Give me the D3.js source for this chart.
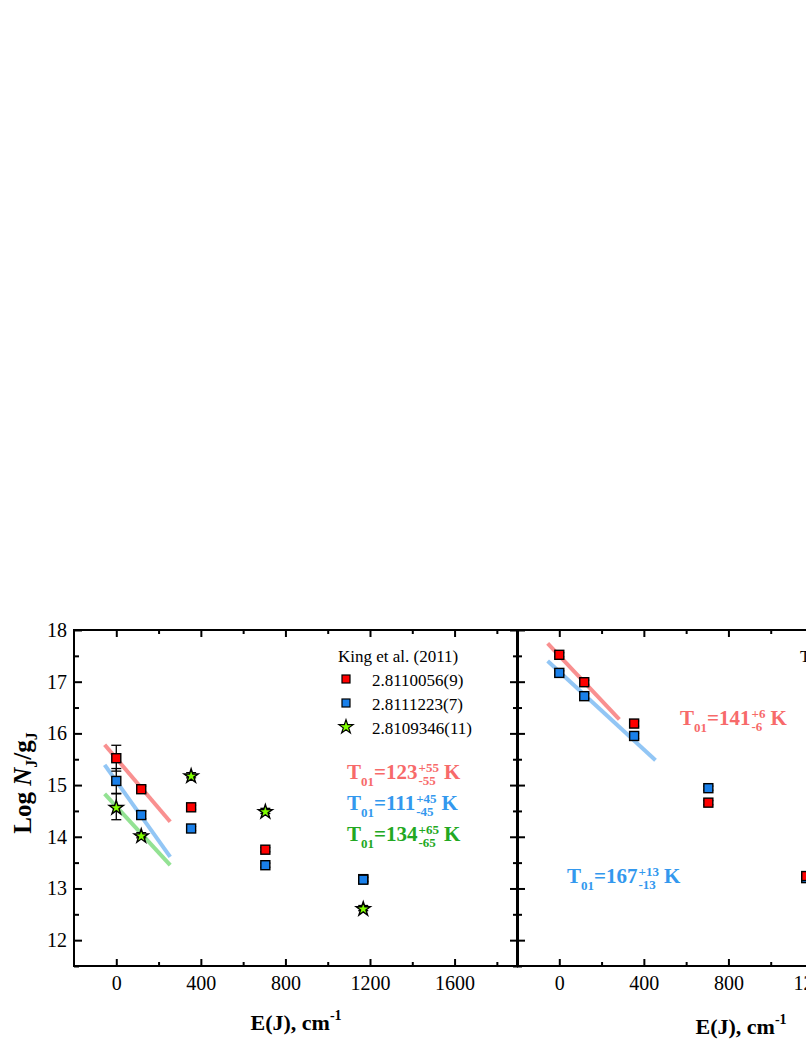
<!DOCTYPE html>
<html>
<head>
<meta charset="utf-8">
<script src="https://cdn.jsdelivr.net/npm/d3@7"></script>
<style>
  html, body { margin: 0; padding: 0; background: #fff; overflow: hidden; }
  svg { display: block; font-family: "Liberation Serif", "DejaVu Serif", serif; }
</style>
</head>
<body>
<div id="chart"></div>
<script>
// --- Data ---
const energies = [0, 118, 354, 705, 1168];           // E(J), cm^-1

// left panel: King et al. (2011)
const kingRed   = [15.52, 14.92, 14.57, 13.75, 13.18];
const kingBlue  = [15.08, 14.42, 14.16, 13.45, 13.17];
const kingGreen = [14.58, 14.03, 15.19, 14.50, 12.62];
const kingRedErr   = [0.25, 0.06, 0.04, 0.04, 0.04];
const kingBlueErr  = [0.24, 0.07, 0.04, 0.04, 0.04];
const kingGreenErr = [0.25, 0.05, 0.05, 0.05, 0.05];
const kingLabels = ["2.8110056(9)", "2.8111223(7)", "2.8109346(11)"];

// right panel
const workRed  = [17.52, 16.99, 16.19, 14.66, 13.24];
const workBlue = [17.17, 16.72, 15.95, 14.94, 13.20];
const workRedErr  = [0.04, 0.04, 0.05, 0.04, 0.04];
const workBlueErr = [0.04, 0.05, 0.05, 0.04, 0.04];

// fit lines [E start, E end], [log start, log end]
const fitKingRed   = { e: [-55, 255], v: [15.78, 14.29] };
const fitKingBlue  = { e: [-55, 255], v: [15.39, 13.61] };
const fitKingGreen = { e: [-55, 255], v: [14.83, 13.45] };
const fitWorkRed   = { e: [-55, 284], v: [17.74, 16.27] };
const fitWorkBlue  = { e: [-55, 455], v: [17.40, 15.48] };

const xMajor = [0, 400, 800, 1200, 1600];
const xMinor = [200, 600, 1000, 1400, 1800];
const yMajor = [12, 13, 14, 15, 16, 17, 18];
const yMinor = [11.5, 12.5, 13.5, 14.5, 15.5, 16.5, 17.5];

// --- Colours ---
const cRed = "#ff0000", cBlue = "#1a80ea", cStar = "#80ff00";
const lRed = "#f99090", lBlue = "#92c6f5", lGreen = "#93e293";
const tRed = "#f76a6a", tBlue = "#3398ee", tGreen = "#22a822";

// --- Layout ---
const W = 806, H = 1042;
const plotTop = 630, plotBottom = 966, panelW = 444;

const svg = d3.select("#chart").append("svg")
  .attr("width", W).attr("height", H);

const y = d3.scaleLinear().domain([11.5, 18]).range([plotBottom, plotTop]);

function styleAxis(s) {
  s.select(".domain").remove();
  s.selectAll("line").attr("stroke", "#000").attr("stroke-width", 2);
  s.selectAll("text").attr("fill", "#000").style("font-size", "20px")
    .style("font-family", "'Liberation Serif', serif");
}

function makePanel(x0, showYLabels) {
  const x = d3.scaleLinear().domain([-200, 1900]).range([x0, x0 + panelW]);
  const g = svg.append("g");

  // x: bottom (labels) and top (mirror)
  g.append("g").attr("transform", `translate(0,${plotBottom})`)
    .call(d3.axisBottom(x).tickValues(xMajor).tickSize(-7).tickPadding(10).tickFormat(d3.format("d")))
    .call(styleAxis);
  g.append("g").attr("transform", `translate(0,${plotBottom})`)
    .call(d3.axisBottom(x).tickValues(xMinor).tickSize(-4).tickFormat(""))
    .call(styleAxis);
  g.append("g").attr("transform", `translate(0,${plotTop})`)
    .call(d3.axisTop(x).tickValues(xMajor).tickSize(-7).tickFormat(""))
    .call(styleAxis);
  g.append("g").attr("transform", `translate(0,${plotTop})`)
    .call(d3.axisTop(x).tickValues(xMinor).tickSize(-4).tickFormat(""))
    .call(styleAxis);

  // y: left and right (mirror)
  g.append("g").attr("transform", `translate(${x0},0)`)
    .call(d3.axisLeft(y).tickValues(yMajor).tickSize(-8).tickPadding(7)
      .tickFormat(showYLabels ? d3.format("d") : ""))
    .call(styleAxis);
  g.append("g").attr("transform", `translate(${x0},0)`)
    .call(d3.axisLeft(y).tickValues(yMinor).tickSize(-5).tickFormat(""))
    .call(styleAxis);
  g.append("g").attr("transform", `translate(${x0 + panelW},0)`)
    .call(d3.axisRight(y).tickValues(yMajor).tickSize(-8).tickFormat(""))
    .call(styleAxis);
  g.append("g").attr("transform", `translate(${x0 + panelW},0)`)
    .call(d3.axisRight(y).tickValues(yMinor).tickSize(-5).tickFormat(""))
    .call(styleAxis);

  g.append("rect")
    .attr("x", x0).attr("y", plotTop).attr("width", panelW).attr("height", plotBottom - plotTop)
    .attr("fill", "none").attr("stroke", "#000").attr("stroke-width", 2);

  return { g, x };
}

function fitLine(p, fit, color) {
  p.g.append("line")
    .attr("x1", p.x(fit.e[0])).attr("y1", y(fit.v[0]))
    .attr("x2", p.x(fit.e[1])).attr("y2", y(fit.v[1]))
    .attr("stroke", color).attr("stroke-width", 4);
}

function errorBars(p, vals, errs) {
  const eg = p.g.append("g").attr("stroke", "#000").attr("stroke-width", 1.3);
  energies.forEach((e, i) => {
    const cx = p.x(e), y1 = y(vals[i] + errs[i]), y2 = y(vals[i] - errs[i]);
    eg.append("line").attr("x1", cx).attr("x2", cx).attr("y1", y1).attr("y2", y2);
    eg.append("line").attr("x1", cx - 5).attr("x2", cx + 5).attr("y1", y1).attr("y2", y1);
    eg.append("line").attr("x1", cx - 5).attr("x2", cx + 5).attr("y1", y2).attr("y2", y2);
  });
}

function squares(p, vals, color) {
  p.g.append("g").selectAll("rect")
    .data(energies.map((e, i) => ({ e, v: vals[i] })))
    .enter().append("rect")
      .attr("x", d => p.x(d.e) - 4.5).attr("y", d => y(d.v) - 4.5)
      .attr("width", 9).attr("height", 9)
      .attr("fill", color).attr("stroke", "#000").attr("stroke-width", 1.4);
}

function stars(p, vals) {
  p.g.append("g").selectAll("path")
    .data(energies.map((e, i) => ({ e, v: vals[i] })))
    .enter().append("path")
      .attr("transform", d => `translate(${p.x(d.e)},${y(d.v) + 1})`)
      .attr("d", d3.symbol(d3.symbolStar, 62))
      .attr("fill", cStar).attr("stroke", "#000").attr("stroke-width", 1.4);
}

// T01 = value (+err / -err) K
function tLabel(g, x, yb, val, plus, minus, color) {
  const base = g.append("text").attr("x", x).attr("y", yb).attr("fill", color)
    .style("font-weight", "bold").style("font-size", "21px");
  base.append("tspan").text("T");
  base.append("tspan").attr("dy", 7).style("font-size", "13px").text("01");
  base.append("tspan").attr("dy", -7).text("=" + val);
  const sx = x + base.node().getComputedTextLength() + 1;
  const sup = g.append("text").attr("x", sx).attr("y", yb - 7).attr("fill", color)
    .style("font-weight", "bold").style("font-size", "13px").text(plus);
  const sub = g.append("text").attr("x", sx).attr("y", yb + 6).attr("fill", color)
    .style("font-weight", "bold").style("font-size", "13px").text(minus);
  const sw = Math.max(sup.node().getComputedTextLength(), sub.node().getComputedTextLength());
  g.append("text").attr("x", sx + sw + 5).attr("y", yb).attr("fill", color)
    .style("font-weight", "bold").style("font-size", "21px").text("K");
}

// --- Left panel ---
const left = makePanel(74, true);
fitLine(left, fitKingRed, lRed);
fitLine(left, fitKingBlue, lBlue);
fitLine(left, fitKingGreen, lGreen);
errorBars(left, kingRed, kingRedErr);
errorBars(left, kingBlue, kingBlueErr);
errorBars(left, kingGreen, kingGreenErr);
squares(left, kingRed, cRed);
squares(left, kingBlue, cBlue);
stars(left, kingGreen);

// legend
const leg = left.g.append("g");
leg.append("text").attr("x", 338).attr("y", 662).style("font-size", "17px").text("King et al. (2011)");
kingLabels.forEach((lab, i) => {
  const ly = 679 + i * 24;
  if (i < 2) {
    leg.append("rect").attr("x", 342).attr("y", ly - 4).attr("width", 8).attr("height", 8)
      .attr("fill", i === 0 ? cRed : cBlue).attr("stroke", "#000").attr("stroke-width", 1.2);
  } else {
    leg.append("path").attr("transform", `translate(346,${ly})`)
      .attr("d", d3.symbol(d3.symbolStar, 62))
      .attr("fill", cStar).attr("stroke", "#000").attr("stroke-width", 1.2);
  }
  leg.append("text").attr("x", 372).attr("y", ly + 7).style("font-size", "17px").text(lab);
});

tLabel(left.g, 347, 779, "123", "+55", "-55", tRed);
tLabel(left.g, 347, 810, "111", "+45", "-45", tBlue);
tLabel(left.g, 347, 841, "134", "+65", "-65", tGreen);

// --- Right panel ---
const right = makePanel(517, false);
fitLine(right, fitWorkRed, lRed);
fitLine(right, fitWorkBlue, lBlue);
errorBars(right, workBlue, workBlueErr);
errorBars(right, workRed, workRedErr);
squares(right, workBlue, cBlue);
squares(right, workRed, cRed);
right.g.append("text").attr("x", 800).attr("y", 662).style("font-size", "17px").text("This work");

tLabel(right.g, 680, 725, "141", "+6", "-6", tRed);
tLabel(right.g, 567, 883, "167", "+13", "-13", tBlue);

// --- Axis titles ---
function xTitle(cx, yb) {
  const t = svg.append("text").attr("x", cx).attr("y", yb).attr("text-anchor", "middle")
    .style("font-weight", "bold").style("font-size", "22px");
  t.append("tspan").text("E(J), cm");
  t.append("tspan").attr("dy", -10).style("font-size", "14px").text("-1");
}
xTitle(296, 1030);
xTitle(741, 1034);

const yt = svg.append("text")
  .attr("transform", `translate(31,783) rotate(-90)`)
  .attr("text-anchor", "middle")
  .style("font-weight", "bold").style("font-size", "25px");
yt.append("tspan").text("Log ");
yt.append("tspan").style("font-style", "italic").text("N");
yt.append("tspan").attr("dy", 6).style("font-size", "16px").text("J");
yt.append("tspan").attr("dy", -6).text("/g");
yt.append("tspan").attr("dy", 6).style("font-size", "16px").text("J");
</script>
</body>
</html>
